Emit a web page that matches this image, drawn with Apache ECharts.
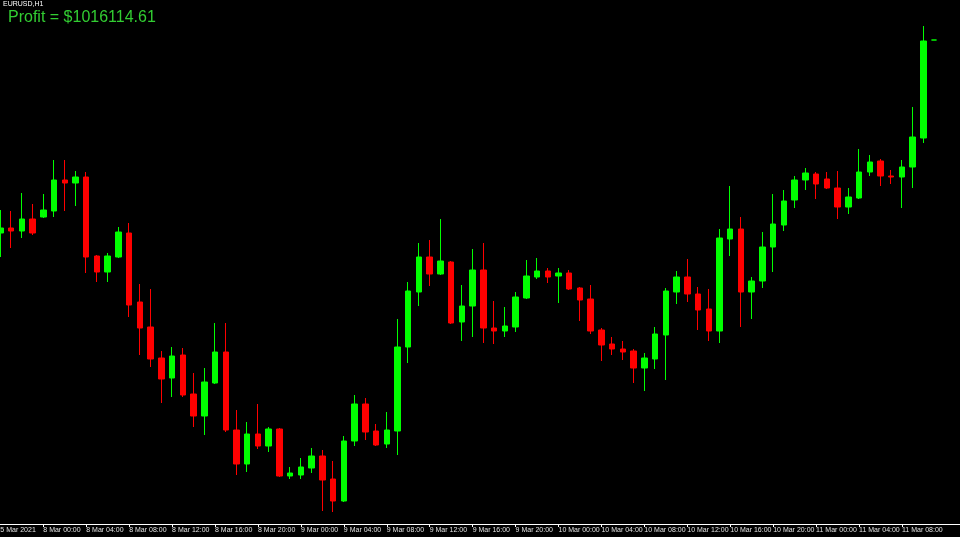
<!DOCTYPE html>
<html>
<head>
<meta charset="utf-8">
<script src="https://cdn.jsdelivr.net/npm/echarts@6/dist/echarts.min.js"></script>
<style>
html,body{margin:0;padding:0;background:#000;}
#chart{width:960px;height:537px;}
</style>
</head>
<body>
<div id="chart"></div>
<script>
// EURUSD H1 candles, 5 Mar 2021 20:00 .. 11 Mar 2021 11:00
const dayHours = [['5 Mar', 20, 23], ['8 Mar', 0, 23], ['9 Mar', 0, 23], ['10 Mar', 0, 23], ['11 Mar', 0, 11]];
const shiftBars = 2; // empty space right of the last bar (chart shift)

const openP = [
1.19173,1.19188,1.19179,1.19215,1.19221,1.19239,1.19332,1.19323,1.19341,1.19104,
1.19056,1.19101,1.19173,1.18966,1.18891,1.18798,1.18738,1.18807,1.18690,1.18624,
1.18723,1.18816,1.18582,1.18480,1.18570,1.18534,1.18585,1.18444,1.18447,1.18468,
1.18504,1.18435,1.18369,1.18549,1.18660,1.18579,1.18540,1.18579,1.18831,1.18996,
1.19101,1.19050,1.19086,1.18906,1.18954,1.19062,1.18888,1.18879,1.18891,1.18978,
1.19041,1.19059,1.19044,1.19053,1.19008,1.18975,1.18882,1.18840,1.18825,1.18819,
1.18768,1.18795,1.18867,1.18996,1.19041,1.18990,1.18945,1.18879,1.19155,1.19185,
1.18996,1.19029,1.19131,1.19197,1.19272,1.19332,1.19350,1.19335,1.19308,1.19251,
1.19278,1.19356,1.19389,1.19344,1.19341,1.19371,1.19458,1.19752];
const closeP = [
1.19188,1.19179,1.19215,1.19173,1.19242,1.19332,1.19323,1.19341,1.19101,1.19056,
1.19104,1.19176,1.18957,1.18888,1.18795,1.18735,1.18804,1.18687,1.18624,1.18726,
1.18816,1.18582,1.18480,1.18570,1.18534,1.18585,1.18444,1.18453,1.18471,1.18504,
1.18432,1.18369,1.18549,1.18660,1.18576,1.18537,1.18582,1.18831,1.18999,1.19101,
1.19050,1.19089,1.18903,1.18954,1.19062,1.18888,1.18879,1.18894,1.18981,1.19044,
1.19059,1.19041,1.19053,1.19005,1.18972,1.18879,1.18837,1.18825,1.18816,1.18768,
1.18798,1.18870,1.18999,1.19041,1.18990,1.18942,1.18879,1.19158,1.19185,1.18996,
1.19029,1.19131,1.19200,1.19269,1.19332,1.19353,1.19320,1.19308,1.19251,1.19281,
1.19356,1.19386,1.19344,1.19341,1.19371,1.19461,1.19749,1.19752];
const lowP = [
1.19101,1.19128,1.19158,1.19167,1.19218,1.19221,1.19239,1.19254,1.19053,1.19026,
1.19026,1.19098,1.18921,1.18807,1.18771,1.18663,1.18681,1.18681,1.18591,1.18567,
1.18720,1.18576,1.18447,1.18456,1.18525,1.18516,1.18441,1.18435,1.18435,1.18453,
1.18339,1.18336,1.18366,1.18534,1.18552,1.18534,1.18528,1.18507,1.18783,1.18954,
1.19014,1.19047,1.18900,1.18849,1.18861,1.18843,1.18840,1.18861,1.18876,1.18975,
1.19035,1.19023,1.18963,1.19002,1.18909,1.18870,1.18789,1.18807,1.18792,1.18723,
1.18699,1.18765,1.18732,1.18960,1.18966,1.18882,1.18849,1.18843,1.19104,1.18891,
1.18915,1.19008,1.19056,1.19179,1.19248,1.19302,1.19275,1.19305,1.19215,1.19230,
1.19275,1.19344,1.19314,1.19320,1.19248,1.19308,1.19443,1.19752];
const highP = [
1.19242,1.19239,1.19293,1.19260,1.19290,1.19392,1.19392,1.19359,1.19356,1.19107,
1.19113,1.19191,1.19203,1.19020,1.19005,1.18819,1.18831,1.18828,1.18753,1.18768,
1.18903,1.18903,1.18642,1.18606,1.18660,1.18591,1.18588,1.18471,1.18498,1.18528,
1.18522,1.18489,1.18564,1.18687,1.18678,1.18600,1.18636,1.18915,1.19026,1.19143,
1.19152,1.19215,1.19089,1.19017,1.19125,1.19143,1.18969,1.18951,1.18996,1.19092,
1.19098,1.19068,1.19068,1.19062,1.19011,1.19017,1.18888,1.18861,1.18849,1.18825,
1.18813,1.18891,1.19008,1.19059,1.19095,1.19011,1.19005,1.19185,1.19314,1.19221,
1.19041,1.19176,1.19290,1.19302,1.19344,1.19368,1.19356,1.19356,1.19359,1.19308,
1.19425,1.19407,1.19395,1.19362,1.19392,1.19551,1.19794,1.19752];

const symbolText = 'EURUSD,H1';
const profitText = 'Profit = $1016114.61';
const priceMin = 1.18300, priceMax = 1.19872;

// build categories (hour slots)
const categories = [];
dayHours.forEach(([d, h0, h1]) => {
  for (let h = h0; h <= h1; h++) categories.push(d + ' ' + String(h).padStart(2, '0') + ':00');
});
for (let k = 0; k < shiftBars; k++) categories.push('');
const lastLabelIdx = openP.length - 4; // 11 Mar 08:00
const showIdx = (i) => i % 4 === 0 && i <= lastLabelIdx;

const candles = openP.map((o, i) => [o, closeP[i], lowP[i], highP[i]]);

const chart = echarts.init(document.getElementById('chart'), null, {renderer: 'canvas'});
chart.setOption({
  backgroundColor: '#000000',
  animation: false,
  grid: {left: -5, right: -1, top: 0, bottom: 13, containLabel: false, outerBoundsMode: 'none'},
  xAxis: {
    type: 'category',
    data: categories,
    boundaryGap: true,
    axisLine: {show: true, lineStyle: {color: '#ffffff', width: 1}},
    axisTick: {show: true, alignWithLabel: true, length: 3, interval: (i) => showIdx(i) && i > 0, lineStyle: {color: '#ffffff'}},
    axisLabel: {
      show: true, interval: (i) => showIdx(i), align: 'left', margin: 3,
      color: '#e0e0e0', fontSize: 7, fontFamily: 'Liberation Sans, Arial, sans-serif',
      hideOverlap: false,
      formatter: (v, i) => (i === 0 ? '5 Mar 2021' : v)
    },
    splitLine: {show: false}
  },
  yAxis: {
    type: 'value', min: priceMin, max: priceMax, show: false, scale: true,
    splitLine: {show: false}
  },
  series: [{
    type: 'candlestick',
    data: candles,
    barWidth: 6,
    itemStyle: {
      color: '#00ff00', color0: '#ff0000',
      borderColor: '#00ff00', borderColor0: '#ff0000', borderWidth: 1
    }
  }],
  graphic: [
    {type: 'text', left: 3, top: 1, style: {text: symbolText, fill: '#ffffff', font: '7px "Liberation Sans", Arial, sans-serif'}},
    {type: 'text', left: 8, top: 10, style: {text: profitText, fill: '#32cd32', font: '16px "Liberation Sans", Arial, sans-serif'}}
  ]
});
</script>
</body>
</html>
